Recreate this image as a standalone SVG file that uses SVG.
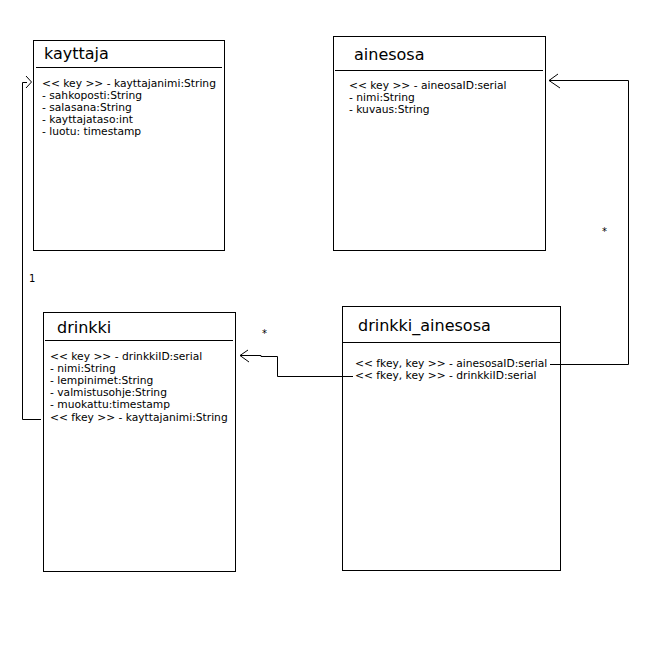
<svg xmlns="http://www.w3.org/2000/svg" width="669" height="651" viewBox="0 0 669 651">
<style>
.box{fill:#fff;stroke:#000;stroke-width:1}
.div{stroke:#000;stroke-width:1}
.title{font-family:"DejaVu Sans",sans-serif;font-size:16px;fill:#000}
.attr{font-family:"DejaVu Sans",sans-serif;font-size:10.7px;fill:#000}
.conn{fill:none;stroke:#000;stroke-width:1}
.lbl{font-family:"DejaVu Sans",sans-serif;font-size:10px;fill:#000}
</style>
<rect width="669" height="651" fill="#fff"/>
<g id="kayttaja">
<rect class="box" x="33.5" y="40.5" width="191" height="210"/>
<line class="div" x1="36" y1="67.5" x2="222" y2="67.5"/>
<text class="title" x="44" y="59">kayttaja</text>
<text class="attr" x="42" y="87">&lt;&lt; key &gt;&gt; - kayttajanimi:String</text>
<text class="attr" x="42" y="99">- sahkoposti:String</text>
<text class="attr" x="42" y="111">- salasana:String</text>
<text class="attr" x="42" y="123">- kayttajataso:int</text>
<text class="attr" x="42" y="135">- luotu: timestamp</text>
</g>
<g id="ainesosa">
<rect class="box" x="333.5" y="36.5" width="212" height="214"/>
<line class="div" x1="335" y1="70.5" x2="543" y2="70.5"/>
<text class="title" x="354" y="60">ainesosa</text>
<text class="attr" x="349" y="89">&lt;&lt; key &gt;&gt; - aineosaID:serial</text>
<text class="attr" x="349" y="101">- nimi:String</text>
<text class="attr" x="349" y="113">- kuvaus:String</text>
</g>
<g id="drinkki">
<rect class="box" x="43.5" y="312.5" width="192" height="259"/>
<line class="div" x1="45" y1="340.5" x2="233" y2="340.5"/>
<text class="title" x="57" y="333">drinkki</text>
<text class="attr" x="50" y="360">&lt;&lt; key &gt;&gt; - drinkkiID:serial</text>
<text class="attr" x="50" y="372">- nimi:String</text>
<text class="attr" x="50" y="384">- lempinimet:String</text>
<text class="attr" x="50" y="396">- valmistusohje:String</text>
<text class="attr" x="50" y="408">- muokattu:timestamp</text>
<text class="attr" x="50" y="421">&lt;&lt; fkey &gt;&gt; - kayttajanimi:String</text>
</g>
<g id="drinkki_ainesosa">
<rect class="box" x="342.5" y="306.5" width="218" height="264"/>
<line class="div" x1="343" y1="342.5" x2="560" y2="342.5"/>
<text class="title" x="358" y="331">drinkki_ainesosa</text>
<text class="attr" x="355" y="367">&lt;&lt; fkey, key &gt;&gt; - ainesosaID:serial</text>
<text class="attr" x="355" y="379">&lt;&lt; fkey, key &gt;&gt; - drinkkiID:serial</text>
</g>
<g id="connectors">
<polyline class="conn" points="41,419.5 22.5,419.5 22.5,82.5 27,82.5"/>
<polyline class="conn" points="26,76 31.5,82 26,88"/>
<text class="lbl" x="29" y="282">1</text>
<polyline class="conn" points="550,364.5 628.5,364.5 628.5,80.5 549,80.5"/>
<polyline class="conn" points="558,74 549,80.5 560,88"/>
<text class="lbl" x="602" y="235">*</text>
<polyline class="conn" points="353,376.5 277.5,376.5 277.5,356.5 261,356.5 261,355.5 240,355.5"/>
<polyline class="conn" points="248,350 240,355.5 249,362"/>
<text class="lbl" x="262" y="337">*</text>
</g>
</svg>
